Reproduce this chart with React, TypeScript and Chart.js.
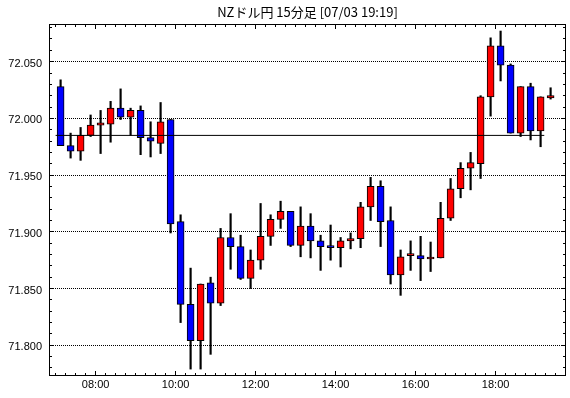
import React, { useEffect, useRef } from "react";
import { Chart, registerables } from "chart.js";

Chart.register(...registerables);

const TITLE = "NZドル円 15分足 [07/03 19:19]";

const times = [
  "07:00", "07:15", "07:30", "07:45", "08:00", "08:15", "08:30", "08:45",
  "09:00", "09:15", "09:30", "09:45", "10:00", "10:15", "10:30", "10:45",
  "11:00", "11:15", "11:30", "11:45", "12:00", "12:15", "12:30", "12:45",
  "13:00", "13:15", "13:30", "13:45", "14:00", "14:15", "14:30", "14:45",
  "15:00", "15:15", "15:30", "15:45", "16:00", "16:15", "16:30", "16:45",
  "17:00", "17:15", "17:30", "17:45", "18:00", "18:15", "18:30", "18:45",
  "19:00", "19:15",
];

const openP = [
  72.028, 71.976, 71.971, 71.985, 71.994, 71.995, 72.009, 72.001,
  72.007, 71.983, 71.978, 71.999, 71.909, 71.836, 71.804, 71.855,
  71.837, 71.895, 71.887, 71.859, 71.875, 71.896, 71.911, 71.918,
  71.888, 71.905, 71.892, 71.887, 71.886, 71.892, 71.894, 71.922,
  71.940, 71.910, 71.862, 71.879, 71.879, 71.876, 71.877, 71.912,
  71.938, 71.956, 71.960, 72.019, 72.064, 72.047, 71.987, 72.028,
  71.989, 72.018,
];

const highP = [
  72.034, 71.987, 71.992, 72.003, 72.007, 72.015, 72.026, 72.009,
  72.011, 71.997, 72.014, 71.999, 71.915, 71.868, 71.854, 71.860,
  71.903, 71.916, 71.897, 71.884, 71.925, 71.915, 71.927, 71.918,
  71.922, 71.916, 71.897, 71.906, 71.895, 71.899, 71.926, 71.948,
  71.945, 71.922, 71.884, 71.892, 71.896, 71.891, 71.926, 71.947,
  71.961, 71.970, 72.020, 72.071, 72.077, 72.048, 72.028, 72.031,
  72.019, 72.027,
];

const lowP = [
  71.976, 71.965, 71.963, 71.984, 71.969, 71.979, 71.999, 71.985,
  71.968, 71.966, 71.969, 71.899, 71.820, 71.779, 71.779, 71.792,
  71.835, 71.867, 71.858, 71.850, 71.867, 71.888, 71.903, 71.887,
  71.878, 71.877, 71.866, 71.875, 71.869, 71.885, 71.886, 71.910,
  71.887, 71.854, 71.844, 71.866, 71.857, 71.865, 71.877, 71.910,
  71.930, 71.937, 71.947, 72.002, 72.033, 71.987, 71.984, 71.981,
  71.975, 72.017,
];

const closeP = [
  71.976, 71.971, 71.985, 71.994, 71.996, 72.009, 72.001, 72.007,
  71.983, 71.980, 71.997, 71.907, 71.836, 71.804, 71.854, 71.837,
  71.895, 71.887, 71.859, 71.875, 71.896, 71.911, 71.918, 71.888,
  71.905, 71.892, 71.887, 71.886, 71.892, 71.894, 71.922, 71.940,
  71.909, 71.862, 71.878, 71.879, 71.876, 71.876, 71.912, 71.938,
  71.956, 71.961, 72.019, 72.064, 72.047, 71.987, 72.028, 71.989,
  72.019, 72.020,
];

const REF_LEVEL = 71.985;
const REF_FROM = "07:00";
const REF_TO = "19:13";

const Y_MIN = 71.7729;
const Y_MAX = 72.0832;
const X_MIN = 6.835;
const X_MAX = 19.76;

const UP_COLOR = "#ff0000";
const DOWN_COLOR = "#0000ff";

function toHour(s: string): number {
  const [h, m] = s.split(":").map(Number);
  return h + m / 60;
}
const HALF_CANDLE = 7.5 / 60;

const framePlugin = {
  id: "frameTicks",
  beforeDatasetsDraw(chart: any) {
    const { ctx, chartArea: a, scales } = chart;
    const y = scales.y;
    ctx.save();
    ctx.strokeStyle = "#000";
    ctx.lineWidth = 1;
    ctx.setLineDash([1, 1]);
    y.ticks.forEach((t: any) => {
      const py = Math.floor(y.getPixelForValue(t.value)) + 0.5;
      ctx.beginPath();
      ctx.moveTo(a.left, py);
      ctx.lineTo(a.right, py);
      ctx.stroke();
    });
    ctx.restore();
  },
  afterDatasetsDraw(chart: any) {
    const { ctx, chartArea: a, scales } = chart;
    const x = scales.x;
    const y = scales.y;
    ctx.save();
    ctx.strokeStyle = "#000";
    ctx.lineWidth = 1;
    ctx.setLineDash([]);
    ctx.strokeRect(a.left + 0.5, a.top + 0.5, a.right - a.left - 1, a.bottom - a.top - 1);
    ctx.beginPath();
    const mStart = Math.ceil((X_MIN * 60) / 15) * 15;
    for (let m = mStart; m <= X_MAX * 60; m += 15) {
      const px = Math.floor(x.getPixelForValue(m / 60)) + 0.5;
      const len = m % 120 === 0 ? 5 : 3;
      ctx.moveTo(px, a.top);
      ctx.lineTo(px, a.top + len);
      ctx.moveTo(px, a.bottom);
      ctx.lineTo(px, a.bottom - len);
    }
    const kStart = Math.ceil(Y_MIN * 100);
    for (let k = kStart; k <= Y_MAX * 100; k++) {
      const py = Math.floor(y.getPixelForValue(k / 100)) + 0.5;
      const len = k % 5 === 0 ? 5 : 3;
      ctx.moveTo(a.left, py);
      ctx.lineTo(a.left + len, py);
      ctx.moveTo(a.right, py);
      ctx.lineTo(a.right - len, py);
    }
    ctx.stroke();
    ctx.restore();
  },
};

export default function App() {
  const ref = useRef<HTMLCanvasElement | null>(null);

  useEffect(() => {
    if (!ref.current) return;
    const centers = times.map((t) => toHour(t) + HALF_CANDLE);
    const wickData = centers.map((cx, i) => ({ x: cx, y: [lowP[i], highP[i]] }));
    const bodyData = centers.map((cx, i) => ({ x: cx, y: [openP[i], closeP[i]] }));
    const bodyColors = openP.map((o, i) => (closeP[i] >= o ? UP_COLOR : DOWN_COLOR));

    const chart = new Chart(ref.current, {
      type: "bar",
      data: {
        datasets: [
          {
            type: "line",
            data: [
              { x: toHour(REF_FROM), y: REF_LEVEL },
              { x: toHour(REF_TO), y: REF_LEVEL },
            ],
            borderColor: "#000",
            borderWidth: 1,
            pointRadius: 0,
            fill: false,
            order: 0,
          } as any,
          {
            type: "bar",
            data: bodyData as any,
            backgroundColor: bodyColors,
            borderColor: "#000",
            borderWidth: 1,
            borderSkipped: false,
            barThickness: 7,
            minBarLength: 2,
            grouped: false,
            order: 1,
          } as any,
          {
            type: "bar",
            data: wickData as any,
            backgroundColor: "#000",
            borderWidth: 0,
            barThickness: 1.5,
            grouped: false,
            order: 2,
          } as any,
        ],
      },
      options: {
        responsive: false,
        animation: false,
        events: [],
        layout: { padding: { left: 0, right: 4, top: 0, bottom: 0 } },
        plugins: {
          legend: { display: false },
          tooltip: { enabled: false },
          title: {
            display: true,
            text: TITLE,
            fullSize: false,
            color: "#000",
            font: { family: "'Noto Sans CJK JP', sans-serif", size: 13, weight: "normal", lineHeight: 1.2 },
            padding: { top: 4.5, bottom: 3.9 },
          },
        },
        scales: {
          x: {
            type: "linear",
            min: X_MIN,
            max: X_MAX,
            offset: false,
            grid: { display: false, drawTicks: false },
            border: { display: false },
            ticks: {
              stepSize: 2,
              includeBounds: false,
              autoSkip: false,
              maxRotation: 0,
              padding: 2,
              color: "#000",
              font: { family: "'Liberation Sans', sans-serif", size: 11 },
              callback: (v: any) => `${String(v).padStart(2, "0")}:00`,
            },
            afterFit: (s: any) => {
              s.height = 22;
            },
          },
          y: {
            type: "linear",
            min: Y_MIN,
            max: Y_MAX,
            grid: { display: false, drawTicks: false },
            border: { display: false },
            ticks: {
              stepSize: 0.05,
              includeBounds: false,
              padding: 7,
              labelOffset: 2,
              color: "#000",
              font: { family: "'Liberation Sans Narrow', 'Liberation Sans', sans-serif", size: 11 },
              callback: (v: any) => Number(v).toFixed(3),
            },
            afterFit: (s: any) => {
              s.width = 49;
            },
          },
        },
      } as any,
      plugins: [framePlugin],
    });
    return () => chart.destroy();
  }, []);

  return (
    <div style={{ position: "fixed", left: 0, top: 0, width: 570, height: 398, background: "#fff" }}>
      <canvas ref={ref} width={570} height={398} />
    </div>
  );
}
